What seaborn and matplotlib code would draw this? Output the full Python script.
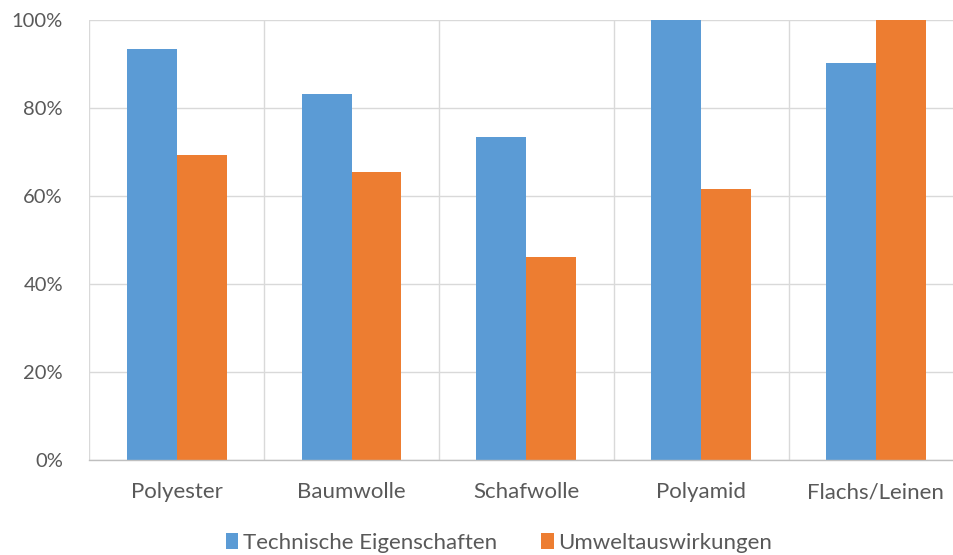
import matplotlib
matplotlib.use("Agg")
import matplotlib.pyplot as plt
import seaborn as sns
import pandas as pd
from matplotlib.ticker import PercentFormatter, FixedLocator
from matplotlib.patches import Patch

materials = ["Polyester", "Baumwolle", "Schafwolle", "Polyamid", "Flachs/Leinen"]
series_names = ["Technische Eigenschaften", "Umweltauswirkungen"]
technisch = [93.3, 83.2, 73.3, 100.0, 90.2]
umwelt = [69.4, 65.4, 46.1, 61.7, 100.0]
colors = ["#5B9BD5", "#ED7D31"]

df = pd.DataFrame({
    "Material": materials * 2,
    "Serie": [series_names[0]] * len(materials) + [series_names[1]] * len(materials),
    "Wert": technisch + umwelt,
})

sns.set_theme(style="white")
plt.rcParams["font.family"] = ["Lato", "DejaVu Sans"]

W, H = 954, 555
fig = plt.figure(figsize=(W / 100, H / 100), dpi=100)
left, right, top, bottom = 89.3, 963.3, 20.0, 460.0
ax = fig.add_axes([left / W, 1 - bottom / H, (right - left) / W, (bottom - top) / H])

sns.barplot(data=df, x="Material", y="Wert", hue="Serie", order=materials,
            hue_order=series_names, palette=colors, saturation=1,
            width=100 / 175, ax=ax, legend=False, linewidth=0, edgecolor="none")

ax.set_ylim(0, 100)
ax.set_xlim(-0.5, len(materials) - 0.5)
ax.yaxis.set_major_locator(FixedLocator([0, 20, 40, 60, 80, 100]))
ax.yaxis.set_major_formatter(PercentFormatter(decimals=0))
ax.set_xlabel("")
ax.set_ylabel("")

# grid: horizontal at ticks, vertical at category boundaries
ax.set_xticks([i + 0.5 for i in range(-1, len(materials))], minor=True)
ax.grid(True, axis="y", which="major", color="#D9D9D9", linewidth=1)
ax.grid(True, axis="x", which="minor", color="#D9D9D9", linewidth=1)
ax.grid(False, axis="x", which="major")
ax.set_axisbelow(True)
for s in ["top", "right", "left"]:
    ax.spines[s].set_visible(False)
ax.spines["bottom"].set_color("#BFBFBF")
ax.spines["bottom"].set_linewidth(1)

ax.tick_params(axis="both", which="both", length=0)
ax.tick_params(axis="y", labelsize=14.5, labelcolor="#595959", pad=19)
ax.tick_params(axis="x", labelsize=16, labelcolor="#595959", pad=16)

handles = [Patch(facecolor=c, edgecolor="none") for c in colors]
fig.legend(handles, series_names, loc="center", bbox_to_anchor=(499 / W, 1 - 543 / H),
           ncol=2, frameon=False, fontsize=16, labelcolor="#595959",
           handlelength=0.55, handleheight=0.7, handletextpad=0.2, columnspacing=2.0)

fig.savefig("out.png", dpi=100)
